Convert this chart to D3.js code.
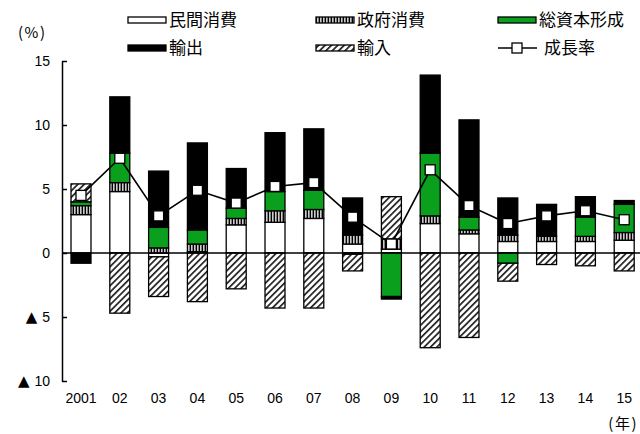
<!DOCTYPE html>
<html>
<head>
<meta charset="utf-8">
<script src="https://cdn.jsdelivr.net/npm/d3@7"></script>
<style>
  html, body { margin: 0; padding: 0; background: #fff; }
  svg { display: block; }
  text { font-family: "Liberation Sans", Arial, sans-serif; fill: #000; }
  .jp { font-family: "Noto Sans CJK JP", sans-serif; }
</style>
</head>
<body>
<svg id="chart" width="640" height="434"></svg>
<script>
// Contributions to real GDP growth (percentage points), by demand component
const years = ["2001","02","03","04","05","06","07","08","09","10","11","12","13","14","15"];
const privateCons = [3.0, 4.8, -0.3, 0.1, 2.2, 2.4, 2.7, 0.7, 0.3, 2.3, 1.5, 0.9, 0.9, 0.9, 1.0];
const govCons     = [0.7, 0.7, 0.4, 0.6, 0.5, 0.9, 0.7, 0.7, 0.8, 0.6, 0.3, 0.5, 0.4, 0.4, 0.6];
const investment  = [0.3, 2.3, 1.6, 1.1, 0.8, 1.5, 1.5, -0.1, -3.4, 4.9, 1.0, -0.8, 0.0, 1.5, 2.2];
const exportsC    = [-0.8, 4.4, 4.4, 6.8, 3.1, 4.6, 4.8, 2.9, -0.2, 6.1, 7.6, 2.9, 2.5, 1.6, 0.3];
const importsC    = [1.4, -4.7, -3.1, -3.8, -2.8, -4.3, -4.3, -1.3, 3.3, -7.4, -6.6, -1.4, -0.9, -1.0, -1.4];
const growth      = [4.5, 7.4, 2.9, 4.9, 3.9, 5.2, 5.5, 2.8, 0.7, 6.5, 3.7, 2.3, 2.9, 3.3, 2.6];

const yTicks = [15, 10, 5, 0, -5, -10];
const yTickLabels = ["15", "10", "5", "0", "▲ 5", "▲ 10"];

const keys = ["private", "gov", "invest", "exports", "imports"];
const seriesNames = { private: "民間消費", gov: "政府消費", invest: "総資本形成", exports: "輸出", imports: "輸入" };
const growthName = "成長率";

const rows = years.map((y, i) => ({
  year: y,
  private: privateCons[i], gov: govCons[i], invest: investment[i],
  exports: exportsC[i], imports: importsC[i]
}));

const svg = d3.select("#chart");
const defs = svg.append("defs");

// vertical stripes for government consumption
const pg = defs.append("pattern").attr("id", "pat-gov")
  .attr("patternUnits", "userSpaceOnUse").attr("width", 3).attr("height", 4);
pg.append("rect").attr("width", 3).attr("height", 4).attr("fill", "#fff");
pg.append("rect").attr("x", 0.5).attr("width", 1.7).attr("height", 4).attr("fill", "#000");

// diagonal hatch for imports
const ph = defs.append("pattern").attr("id", "pat-imp")
  .attr("patternUnits", "userSpaceOnUse").attr("width", 4.5).attr("height", 4.5)
  .attr("patternTransform", "rotate(45)");
ph.append("rect").attr("width", 4.5).attr("height", 4.5).attr("fill", "#fff");
ph.append("rect").attr("x", 0).attr("width", 1.7).attr("height", 4.5).attr("fill", "#222");

const fills = {
  private: "#fff", gov: "url(#pat-gov)", invest: "#0aa01e",
  exports: "#000", imports: "url(#pat-imp)"
};

const x = d3.scaleBand().domain(years).range([61.6, 643.6])
  .paddingInner(0.485).paddingOuter(0.2425);
const y = d3.scaleLinear().domain([-10, 15]).range([381, 61]);

const stack = d3.stack().keys(keys).offset(d3.stackOffsetDiverging);
const series = stack(rows);

// bars
const gBars = svg.append("g");
series.forEach(s => {
  gBars.append("g").selectAll("rect")
    .data(s.filter(d => d[1] !== d[0]))
    .join("rect")
    .attr("x", d => x(d.data.year))
    .attr("width", x.bandwidth())
    .attr("y", d => y(Math.max(d[0], d[1])))
    .attr("height", d => Math.abs(y(d[0]) - y(d[1])))
    .attr("fill", fills[s.key])
    .attr("stroke", "#000")
    .attr("stroke-width", 1.3);
});

// y axis with inward ticks
const yAxis = d3.axisLeft(y).tickValues(yTicks).tickSize(-5).tickSizeOuter(0)
  .tickFormat(() => "");
const gy = svg.append("g").attr("transform", "translate(62,0)").call(yAxis);
gy.select(".domain").attr("stroke", "#000").attr("stroke-width", 1.5);
gy.selectAll(".tick line").attr("stroke", "#000").attr("stroke-width", 1.5);
// tick labels, negative values marked with a triangle
gy.selectAll(".tick text").each(function(d, i) {
  const t = d3.select(this).attr("x", -12).attr("font-size", 14).text(null);
  const lab = yTickLabels[i];
  if (lab.startsWith("▲")) {
    t.append("tspan").attr("font-size", 15).style("font-family", "'DejaVu Sans', sans-serif").text("▲");
    t.append("tspan").attr("dx", 5).text(lab.slice(2));
  } else {
    t.text(lab);
  }
});

// zero line
svg.append("line")
  .attr("x1", 62).attr("x2", 640)
  .attr("y1", y(0)).attr("y2", y(0))
  .attr("stroke", "#000").attr("stroke-width", 1.5);

// x labels
const xAxis = d3.axisBottom(x).tickSize(0).tickPadding(0);
const gx = svg.append("g").attr("transform", "translate(0,393)").call(xAxis);
gx.select(".domain").remove();
gx.selectAll(".tick text").attr("font-size", 14)
  .style("font-family", "'Liberation Sans', Arial, sans-serif");

// growth line and markers
const cx = i => x(years[i]) + x.bandwidth() / 2;
svg.append("path")
  .datum(growth)
  .attr("d", d3.line().x((d, i) => cx(i)).y(d => y(d)))
  .attr("fill", "none").attr("stroke", "#000").attr("stroke-width", 1.6);
svg.append("g").selectAll("rect")
  .data(growth)
  .join("rect")
  .attr("x", (d, i) => cx(i) - 5)
  .attr("y", d => y(d) - 5)
  .attr("width", 10).attr("height", 10)
  .attr("fill", "#fff").attr("stroke", "#000").attr("stroke-width", 1.3);

// unit labels
svg.append("text").attr("class", "jp").attr("x", 18).attr("y", 38)
  .attr("font-size", 15).attr("letter-spacing", 1.5).text("(%)");
svg.append("text").attr("class", "jp").attr("x", 638).attr("y", 429)
  .attr("text-anchor", "end").attr("font-size", 15).attr("letter-spacing", 1.5).text("(年)");

// legend
const legendItems = [
  { key: "private", x: 128, y: 20 },
  { key: "gov", x: 316, y: 20 },
  { key: "invest", x: 498, y: 20 },
  { key: "exports", x: 128, y: 48 },
  { key: "imports", x: 316, y: 48 }
];
const gl = svg.append("g");
legendItems.forEach(it => {
  gl.append("rect")
    .attr("x", it.x).attr("y", it.y - 3).attr("width", 38).attr("height", 6)
    .attr("fill", fills[it.key]).attr("stroke", "#000").attr("stroke-width", 1.3);
  gl.append("text").attr("class", "jp")
    .attr("x", it.x + 41).attr("y", it.y).attr("dy", "0.36em")
    .attr("font-size", 17).text(seriesNames[it.key]);
});
gl.append("line").attr("x1", 498).attr("x2", 537).attr("y1", 48).attr("y2", 48)
  .attr("stroke", "#000").attr("stroke-width", 1.6);
gl.append("rect").attr("x", 512).attr("y", 43).attr("width", 10).attr("height", 10)
  .attr("fill", "#fff").attr("stroke", "#000").attr("stroke-width", 1.3);
gl.append("text").attr("class", "jp").attr("x", 544).attr("y", 48).attr("dy", "0.36em")
  .attr("font-size", 17).text(growthName);
</script>
</body>
</html>
